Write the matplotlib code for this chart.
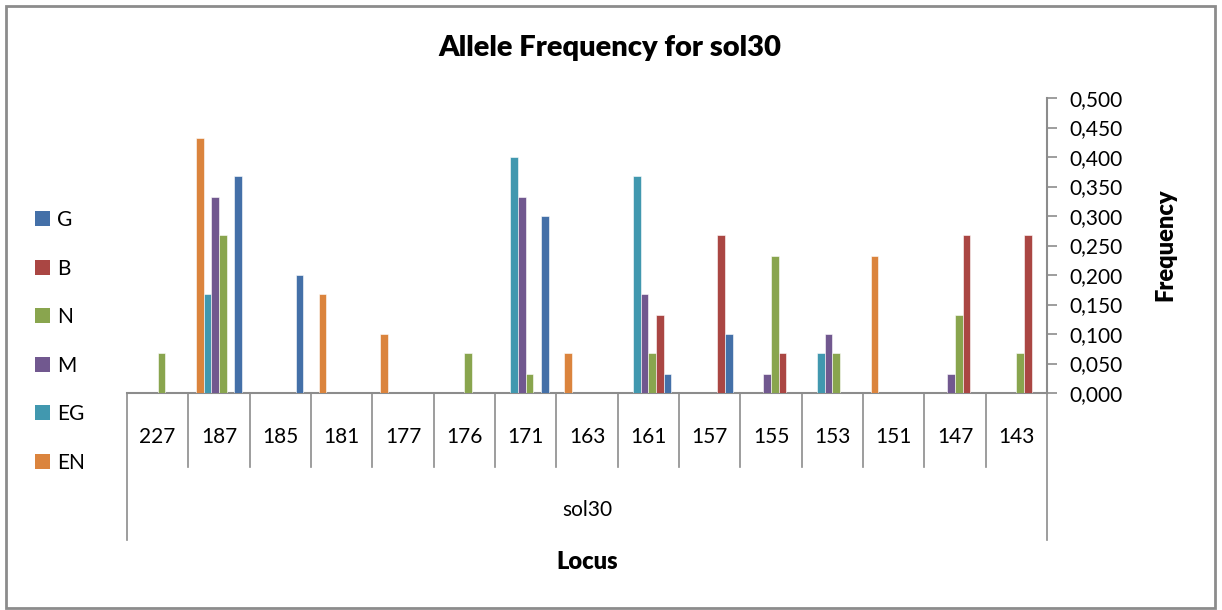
import matplotlib
matplotlib.use("Agg")
import matplotlib.pyplot as plt
import numpy as np
from matplotlib.patches import Rectangle, Patch
from matplotlib.lines import Line2D

plt.rcParams['font.family'] = ['Lato', 'DejaVu Sans']

categories = ['227', '187', '185', '181', '177', '176', '171', '163', '161', '157', '155', '153', '151', '147', '143']
G  = [0, 0.367, 0.200, 0, 0, 0, 0.300, 0, 0.033, 0.100, 0, 0, 0, 0, 0]
B  = [0, 0, 0, 0, 0, 0, 0, 0, 0.133, 0.267, 0.067, 0, 0, 0.267, 0.267]
N  = [0.067, 0.267, 0, 0, 0, 0.067, 0.033, 0, 0.067, 0, 0.233, 0.067, 0, 0.133, 0.067]
M  = [0, 0.333, 0, 0, 0, 0, 0.333, 0, 0.167, 0, 0.033, 0.100, 0, 0.033, 0]
EG = [0, 0.167, 0, 0, 0, 0, 0.400, 0, 0.367, 0, 0, 0.067, 0, 0, 0]
EN = [0, 0.433, 0, 0.167, 0.100, 0, 0, 0.067, 0, 0, 0, 0, 0.233, 0, 0]
series_names = ['G', 'B', 'N', 'M', 'EG', 'EN']
series_vals = [G, B, N, M, EG, EN]
colors = ['#4470A8', '#AA4643', '#89A54E', '#71588F', '#4198AF', '#DB843D']
group_label = 'sol30'
yticks = [0.0, 0.05, 0.10, 0.15, 0.20, 0.25, 0.30, 0.35, 0.40, 0.45, 0.50]

W, H = 1222, 610
fig = plt.figure(figsize=(W / 100, H / 100), dpi=100)

x0, x1 = 127, 1047
y0, y1 = 393, 98
ax = fig.add_axes([x0 / W, 1 - y0 / H, (x1 - x0) / W, (y0 - y1) / H])

n = len(categories)
x = np.arange(n)
nb = 6
bw = 0.75 / nb
# drawing order within group: EN, EG, M, N, B, G (reverse series order)
order = list(range(len(series_names)))[::-1]
for pos, si in enumerate(order):
    offs = -0.375 + bw * (pos + 0.5)
    ax.bar(x + offs, series_vals[si], width=bw, color=colors[si],
           edgecolor='white', linewidth=0.4, zorder=3)

FS = 15
ax.set_xlim(-0.5, n - 0.5)
ax.set_ylim(0, 0.5)
ax.set_yticks(yticks)
ax.set_yticklabels([f"{v:.3f}".replace('.', ',') for v in yticks], fontsize=FS)
ax.yaxis.tick_right()
ax.tick_params(axis='y', direction='out', length=7, width=1.2, color='#8c8c8c', pad=9)
ax.set_xticks([])
for s in ['top', 'left']:
    ax.spines[s].set_visible(False)
ax.spines['right'].set_color('#8c8c8c')
ax.spines['right'].set_linewidth(1.5)
ax.spines['bottom'].set_color('#8c8c8c')
ax.spines['bottom'].set_linewidth(1.5)

# multi-level category axis lines and labels
trans = ax.get_xaxis_transform()
ydiv = -(467 - y0) / (y0 - y1)
yout = -(540 - y0) / (y0 - y1)
ylab = -(437 - y0) / (y0 - y1)
ygrp = -(510 - y0) / (y0 - y1)
for i in range(1, n):
    ax.add_line(Line2D([i - 0.5, i - 0.5], [0, ydiv], transform=trans, color='#8c8c8c',
                       lw=1.2, clip_on=False))
for xe in [-0.5, n - 0.5]:
    ax.add_line(Line2D([xe, xe], [0, yout], transform=trans, color='#8c8c8c',
                       lw=1.2, clip_on=False))
for i, c in enumerate(categories):
    ax.text(i, ylab, c, transform=trans, ha='center', va='center', fontsize=FS)
ax.text((n - 1) / 2, ygrp, group_label, transform=trans, ha='center', va='center', fontsize=FS)

fig.text((x0 + x1) / 2 / W, 1 - 562 / H, 'Locus', ha='center', va='center',
         fontsize=17, fontweight='heavy')
fig.text(1165 / W, 1 - 245 / H, 'Frequency', ha='center', va='center', rotation=90,
         fontsize=17, fontweight='heavy')
fig.text(610 / W, 1 - 48 / H, 'Allele Frequency for sol30', ha='center', va='center',
         fontsize=21, fontweight='heavy')

# legend
handles = [Patch(facecolor=colors[i], edgecolor='none') for i in range(len(series_names))]
leg = fig.legend(handles, series_names, loc='upper left', bbox_to_anchor=(35 / W, 1 - 210 / H),
                 frameon=False, fontsize=FS, labelspacing=1.37, handlelength=0.72,
                 handleheight=0.72, handletextpad=0.35, borderpad=0, borderaxespad=0)

# outer border
fig.patches.append(Rectangle((6 / W, 1 - 608 / H), (1215 - 6) / W, (608 - 6) / H,
                             transform=fig.transFigure, fill=False, edgecolor='#8c8c8c',
                             linewidth=2))

fig.savefig('out.png', dpi=100, facecolor='white')
